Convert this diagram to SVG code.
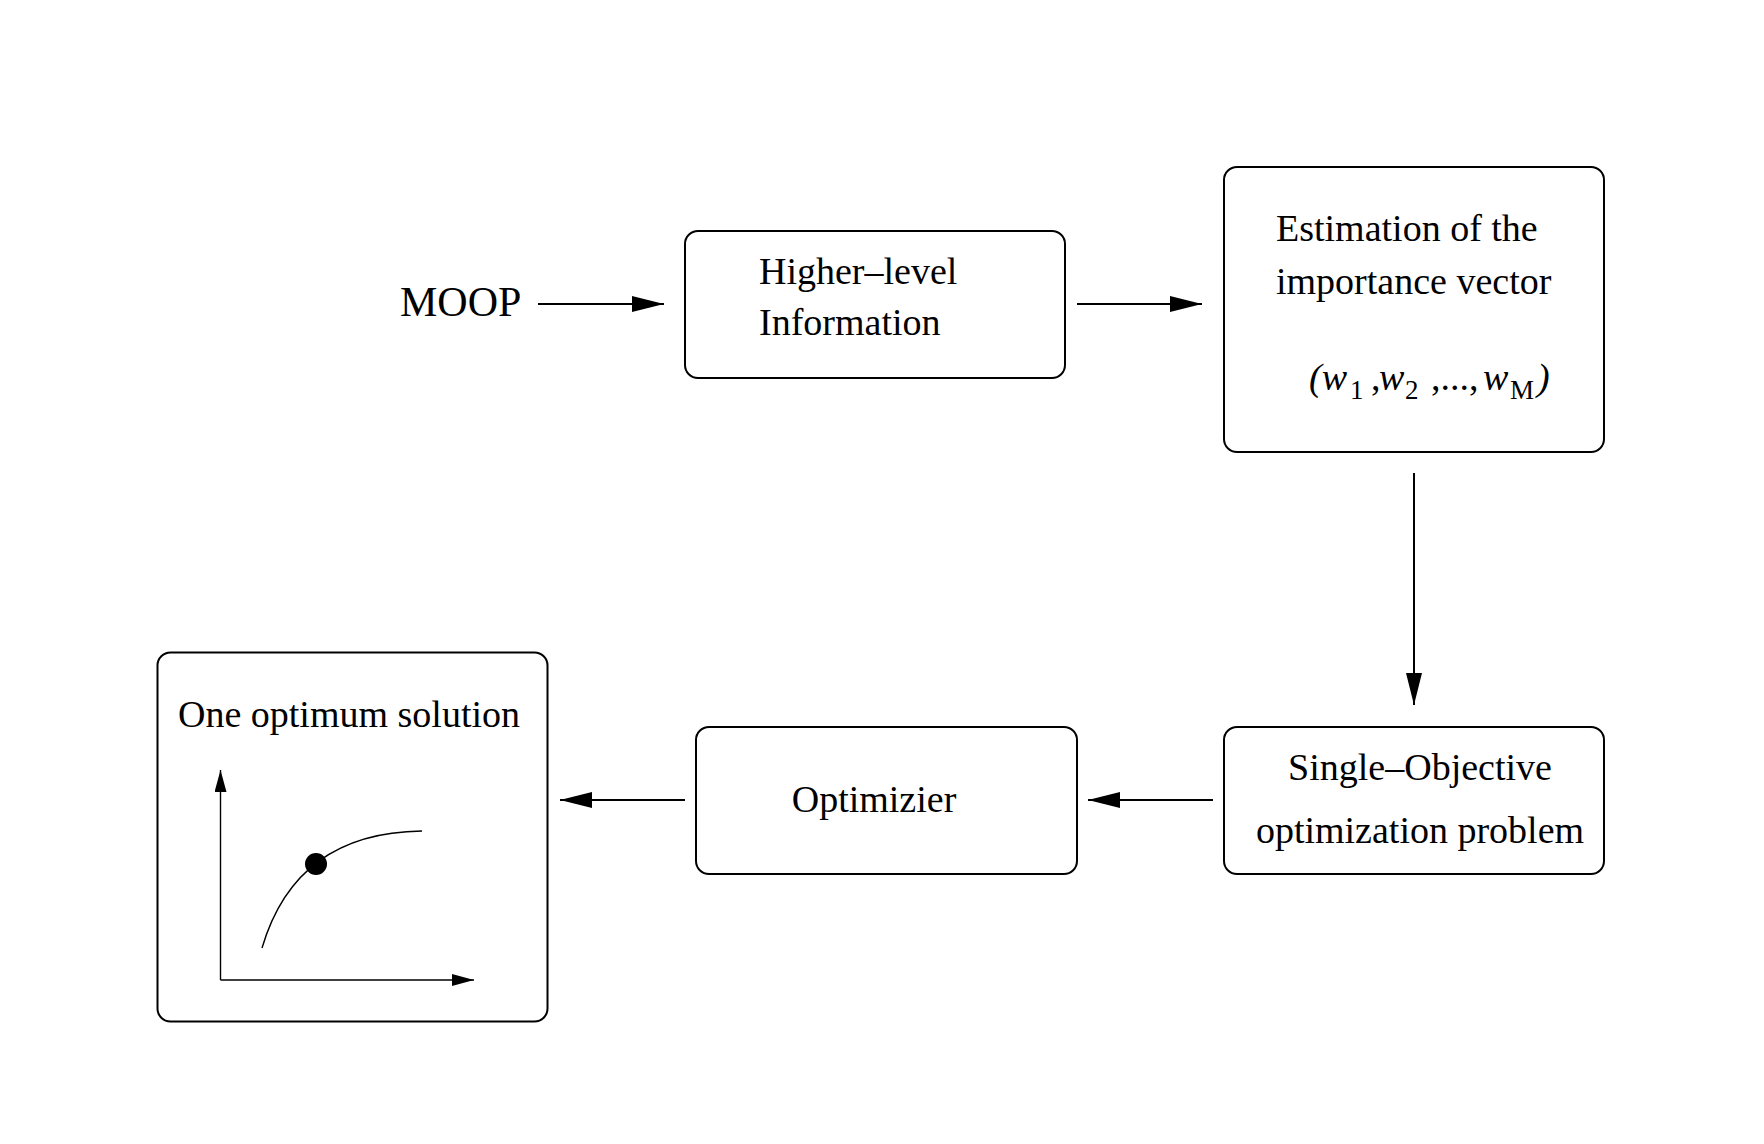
<svg xmlns="http://www.w3.org/2000/svg" width="1764" height="1144" viewBox="0 0 1764 1144">
<style>
.box{fill:#fff;stroke:#000;stroke-width:2}
.t{font-family:"Liberation Serif","Times New Roman",serif;font-size:38px;fill:#000}
.con{stroke:#000;stroke-width:2;fill:none}
.ax{stroke:#000;stroke-width:1.4;fill:none}
</style>
<defs>
<marker id="ah" markerUnits="userSpaceOnUse" markerWidth="32" markerHeight="16" refX="32" refY="8" orient="auto" viewBox="0 0 32 16">
<path d="M0,0 L32,8 L0,16 z" fill="#000"/>
</marker>
<marker id="sh" markerUnits="userSpaceOnUse" markerWidth="22" markerHeight="12" refX="22" refY="6" orient="auto" viewBox="0 0 22 12">
<path d="M0,0 L22,6 L0,12 z" fill="#000"/>
</marker>
</defs>
<rect width="1764" height="1144" fill="#fff"/>
<g id="moop"><text class="t" x="400" y="316" style="font-size:42px">MOOP</text></g>
<g id="higher">
<rect class="box" x="685" y="231" width="380" height="147" rx="13"/>
<text class="t" x="759" y="284">Higher–level</text>
<text class="t" x="759" y="335">Information</text>
</g>
<g id="estimation">
<rect class="box" x="1224" y="167" width="380" height="285" rx="13"/>
<text class="t" x="1276" y="241">Estimation of the</text>
<text class="t" x="1276" y="294">importance vector</text>
<text class="t" y="390"><tspan x="1309" font-style="italic">(w</tspan><tspan x="1350" y="399" style="font-size:27px">1</tspan><tspan x="1371" y="390">,</tspan><tspan x="1379" font-style="italic">w</tspan><tspan x="1405" y="399" style="font-size:27px">2</tspan><tspan x="1431" y="390">,...,</tspan><tspan x="1483" font-style="italic">w</tspan><tspan x="1510" y="399" style="font-size:27px">M</tspan><tspan x="1537" y="390" font-style="italic">)</tspan></text>
</g>
<g id="single">
<rect class="box" x="1224" y="727" width="380" height="147" rx="13"/>
<text class="t" x="1420" y="780" text-anchor="middle">Single–Objective</text>
<text class="t" x="1420" y="843" text-anchor="middle">optimization problem</text>
</g>
<g id="optimizer">
<rect class="box" x="696" y="727" width="381" height="147" rx="13"/>
<text class="t" x="874" y="812" text-anchor="middle">Optimizier</text>
</g>
<g id="solution">
<rect class="box" x="157.5" y="652.5" width="390" height="369" rx="13"/>
<text class="t" x="178" y="727">One optimum solution</text>
<line class="ax" x1="220.5" y1="980" x2="220.5" y2="770" marker-end="url(#sh)"/>
<line class="ax" x1="220.5" y1="980" x2="474" y2="980" marker-end="url(#sh)"/>
<path class="ax" d="M262,948 C285,870 340,832 422,831"/>
<circle cx="316" cy="864" r="11" fill="#000"/>
</g>
<g id="connectors">
<line class="con" x1="538" y1="304" x2="664" y2="304" marker-end="url(#ah)"/>
<line class="con" x1="1077" y1="304" x2="1202" y2="304" marker-end="url(#ah)"/>
<line class="con" x1="1414" y1="473" x2="1414" y2="705" marker-end="url(#ah)"/>
<line class="con" x1="1213" y1="800" x2="1088" y2="800" marker-end="url(#ah)"/>
<line class="con" x1="685" y1="800" x2="560" y2="800" marker-end="url(#ah)"/>
</g>
</svg>
